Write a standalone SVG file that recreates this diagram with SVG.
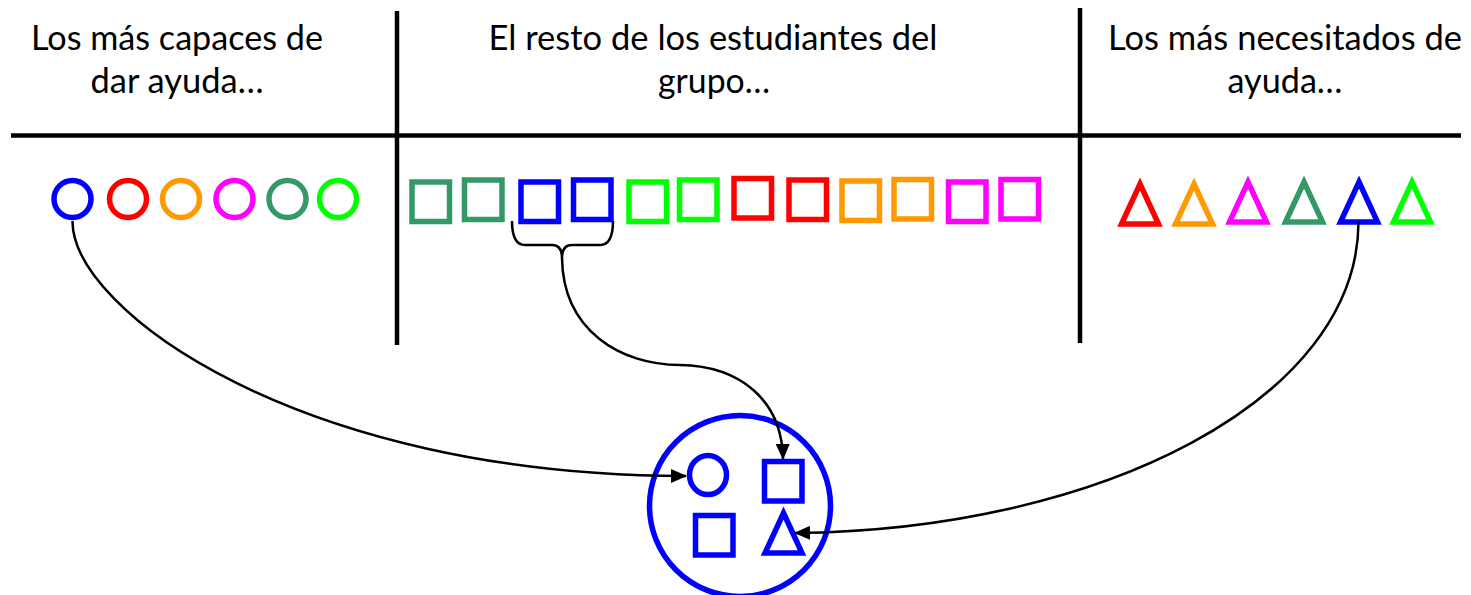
<svg xmlns="http://www.w3.org/2000/svg" width="1471" height="595" viewBox="0 0 1471 595">
<style>
.lbl{font-family:Lato,"Open Sans","Liberation Sans",sans-serif;font-size:34px;fill:#000;text-anchor:middle}
.div{stroke:#000;stroke-width:4.5;fill:none}
.sh{fill:none;stroke-width:5.5}
.con{fill:none;stroke:#000;stroke-width:2.5}
.b{stroke:#0000FF}.r{stroke:#FF0000}.o{stroke:#FF9900}.m{stroke:#FF00FF}.g{stroke:#339966}.l{stroke:#00FF00}
</style>
<defs>
<marker id="ah" markerUnits="userSpaceOnUse" markerWidth="16" markerHeight="14" viewBox="0 0 16 14" refX="15" refY="7" orient="auto">
<path d="M0,0 L16,7 L0,14 Z" fill="#000"/>
</marker>
<path id="sq" d="M0,0 h37.5 v39.5 h-37.5 Z"/>
<path id="tri" d="M0,0 L18.5,40 L-18.5,40 Z" stroke-linejoin="miter"/>
</defs>
<rect width="1471" height="595" fill="#fff"/>
<g id="dividers">
<line class="div" x1="11" y1="135.5" x2="1461" y2="135.5"/>
<line class="div" x1="397" y1="11" x2="397" y2="345"/>
<line class="div" x1="1080" y1="8" x2="1080" y2="343"/>
</g>
<g id="headers">
<text class="lbl" x="177" y="50" textLength="292" lengthAdjust="spacingAndGlyphs">Los más capaces de</text>
<text class="lbl" x="177" y="93" textLength="173" lengthAdjust="spacingAndGlyphs">dar ayuda…</text>
<text class="lbl" x="713" y="50" textLength="449" lengthAdjust="spacingAndGlyphs">El resto de los estudiantes del</text>
<text class="lbl" x="714" y="93" textLength="112" lengthAdjust="spacingAndGlyphs">grupo…</text>
<text class="lbl" x="1285" y="50" textLength="354" lengthAdjust="spacingAndGlyphs">Los más necesitados de</text>
<text class="lbl" x="1285" y="93" textLength="115" lengthAdjust="spacingAndGlyphs">ayuda…</text>
</g>
<g id="capaces">
<circle class="sh b" cx="72.5" cy="199" r="18.5"/>
<circle class="sh r" cx="128" cy="199" r="18.5"/>
<circle class="sh o" cx="181" cy="199" r="18.5"/>
<circle class="sh m" cx="234.5" cy="199" r="18.5"/>
<circle class="sh g" cx="287.5" cy="199" r="18.5"/>
<circle class="sh l" cx="338" cy="199" r="18.5"/>
</g>
<g id="resto">
<use href="#sq" class="sh g" x="412" y="182"/>
<use href="#sq" class="sh g" x="464.5" y="180"/>
<use href="#sq" class="sh b" x="521" y="182"/>
<use href="#sq" class="sh b" x="573.5" y="180"/>
<use href="#sq" class="sh l" x="629" y="182"/>
<use href="#sq" class="sh l" x="679.5" y="180"/>
<use href="#sq" class="sh r" x="734" y="178.5"/>
<use href="#sq" class="sh r" x="789" y="180"/>
<use href="#sq" class="sh o" x="842" y="181"/>
<use href="#sq" class="sh o" x="894" y="179.5"/>
<use href="#sq" class="sh m" x="948.5" y="182"/>
<use href="#sq" class="sh m" x="1001" y="179.5"/>
</g>
<g id="necesitados">
<use href="#tri" class="sh r" x="1140" y="184"/>
<use href="#tri" class="sh o" x="1194" y="184"/>
<use href="#tri" class="sh m" x="1248" y="182"/>
<use href="#tri" class="sh g" x="1304" y="182"/>
<use href="#tri" class="sh b" x="1359" y="182"/>
<use href="#tri" class="sh l" x="1412" y="182"/>
</g>
<g id="equipo">
<circle class="sh b" cx="740" cy="506" r="90.5"/>
<ellipse class="sh b" cx="708" cy="475" rx="18.5" ry="19.5"/>
<use href="#sq" class="sh b" x="764.5" y="461.5"/>
<use href="#sq" class="sh b" x="695.5" y="515.5"/>
<use href="#tri" class="sh b" x="783.5" y="513"/>
</g>
<g id="connectors">
<path class="con" d="M512,221 Q512,245 525,245 L552,245 Q562,245 562,258 Q562,245 572,245 L600,245 Q613,245 613,221"/>
<path class="con" d="M72.5,221 C72,310 300,476 686,476" marker-end="url(#ah)"/>
<path class="con" d="M562,258 C563,330 620,365 680,365 C740,366 782,400 783,459" marker-end="url(#ah)"/>
<path class="con" d="M1358.5,222 C1358,400 1100,530 795,533" marker-end="url(#ah)"/>
</g>
</svg>
